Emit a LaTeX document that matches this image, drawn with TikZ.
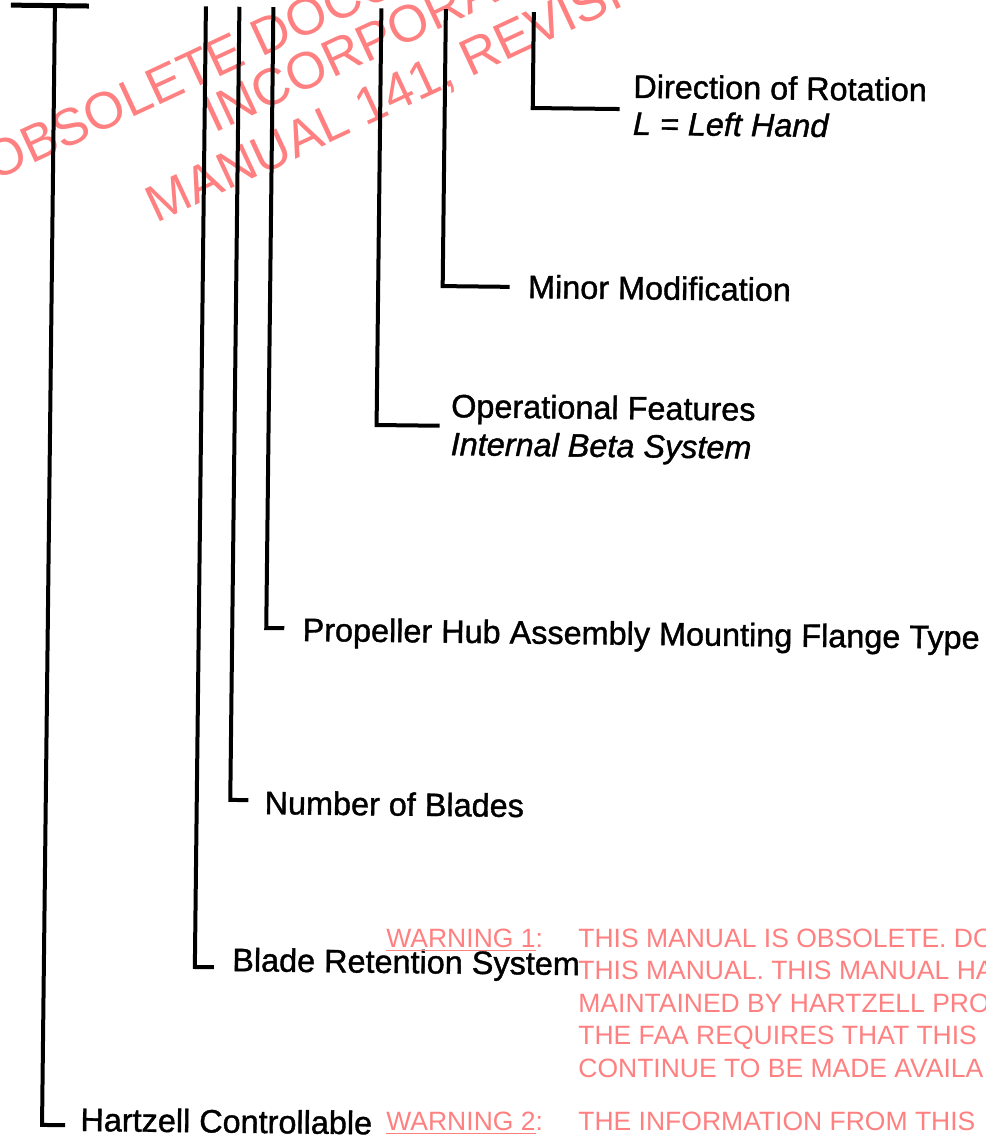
\documentclass[tikz,border=0pt]{standalone}
\usepackage{fontspec}
\setmainfont{Liberation Sans}
\newfontfamily\heavyfont{Liberation Sans}[FakeBold=1.2]
\definecolor{wmred}{RGB}{255,128,128}

\begin{document}
\begin{tikzpicture}[x=0.5pt, y=-0.5pt,
  leader/.style={line width=2pt},
  desc/.style={anchor=base west, inner sep=0pt, transform shape,
               font=\heavyfont\fontsize{16.2}{18.5}\selectfont},
  descit/.style={desc, font=\heavyfont\fontsize{16.2}{18.5}\selectfont\itshape},
  warn/.style={anchor=base west, inner sep=0pt, text=wmred,
               font=\fontsize{13.25}{16.25}\selectfont},
  wmark/.style={anchor=base west, inner sep=0pt, text=wmred, rotate=25,
                font=\fontsize{26}{26}\selectfont}
]
\useasboundingbox (0,0) rectangle (985,1140);
\clip (0,0) rectangle (985,1140);

%% Watermark
\node[wmark] (wm1) at (-6,182)  {OBSOLETE DOCUMENT};
\node[wmark] (wm2) at (214,134) {INCORPORATED};
\node[wmark] (wm3) at (156,224) {MANUAL 141, REVISION};

%% Model code breakdown -- the scan is slightly skewed
\begin{scope}[rotate=-0.66]
\coordinate (bar1) at (11,5);
\coordinate (bar2) at (89,5);
\draw[line width=2.5pt] (bar1) -- (bar2);

%% Leader tops
\coordinate (t1) at (55,5);
\coordinate (t2) at (206,4);
\coordinate (t3) at (239.5,4);
\coordinate (t4) at (273.5,4);
\coordinate (t5) at (381.5,4);
\coordinate (t6) at (446,4);
\coordinate (t7) at (534,6);

%% Leader ends
\coordinate (e1) at (78,1124.5);
\coordinate (e2) at (225,964.8);
\coordinate (e3) at (257.5,797.3);
\coordinate (e4) at (291.5,625);
\coordinate (e5) at (444.5,420.7);
\coordinate (e6) at (513,281);
\coordinate (e7) at (621,101.9);

%% Labels
\node[desc]   (hartzell) at (93,1130)    {Hartzell Controllable};
\node[desc]   (blade)    at (243,968.4)  {Blade Retention System};
\node[desc]   (blades)   at (273.5,811)  {Number of Blades};
\node[desc]   (flange)   at (309.5,637.5){Propeller Hub Assembly Mounting Flange Type};
\node[desc]   (opfeat)   at (455.5,412)  {Operational Features};
\node[descit] (beta)     at (455.5,450)  {Internal Beta System};
\node[desc]   (minor)    at (531,292)    {Minor Modification};
\node[desc]   (rot)      at (634,90.5)   {Direction of Rotation};
\node[descit] (lhand)    at (634,127.5)  {L = Left Hand};

%% Leaders
\draw[leader] (t1) |- (e1);
\draw[leader] (t2) |- (e2);
\draw[leader] (t3) |- (e3);
\draw[leader] (t4) |- (e4);
\draw[leader] (t5) |- (e5);
\draw[leader] (t6) |- (e6);
\draw[leader] (t7) |- (e7);
\end{scope}

%% Warnings
\node[warn] (warn1) at (386,947)    {\underline{WARNING 1}:};
\node[warn] (w1a)   at (578,947)    {THIS MANUAL IS OBSOLETE. DO};
\node[warn] (w1b)   at (578,979.5)  {THIS MANUAL. THIS MANUAL HA};
\node[warn] (w1c)   at (578,1012)   {MAINTAINED BY HARTZELL PRO};
\node[warn] (w1d)   at (578,1044.5) {THE FAA REQUIRES THAT THIS};
\node[warn] (w1e)   at (578,1077)   {CONTINUE TO BE MADE AVAILA};
\node[warn] (warn2) at (386,1130)   {\underline{WARNING 2}:};
\node[warn] (w2a)   at (578,1130)   {THE INFORMATION FROM THIS};
\end{tikzpicture}
\end{document}
